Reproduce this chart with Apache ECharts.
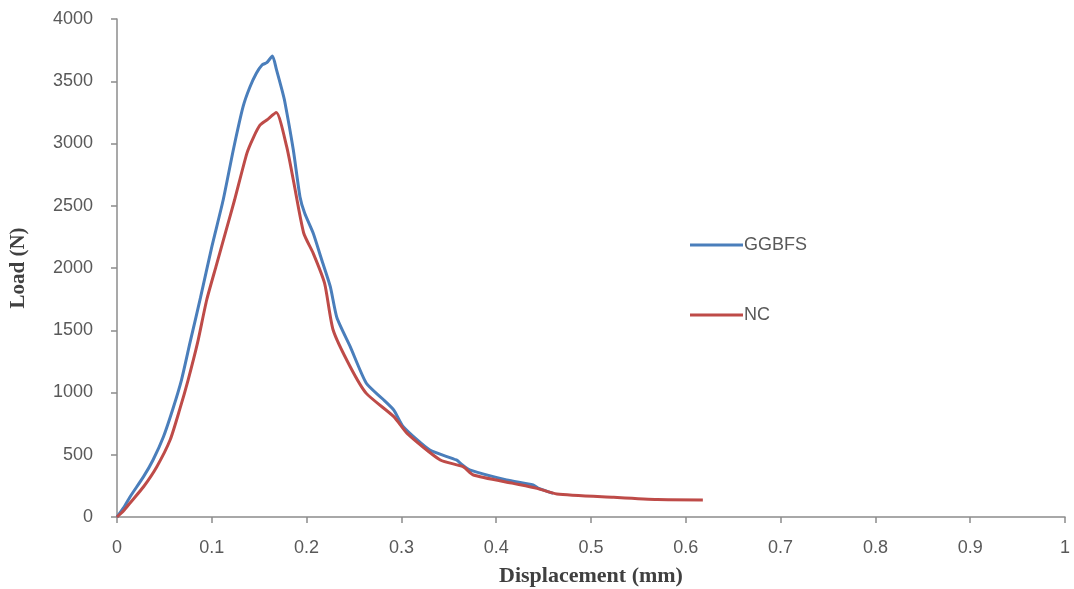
<!DOCTYPE html>
<html>
<head>
<meta charset="utf-8">
<script src="https://cdn.jsdelivr.net/npm/echarts@6/dist/echarts.min.js"></script>
<style>
  html, body { margin: 0; padding: 0; background: #fff; }
  #chart { width: 1074px; height: 589px; }
</style>
</head>
<body>
<div id="chart"></div>
<script>
// GGBFS curve
var ggbfsDisp = [0, 0.007, 0.014, 0.028, 0.038, 0.049, 0.059, 0.068, 0.077, 0.088, 0.1, 0.112, 0.123, 0.133, 0.14, 0.147, 0.153, 0.158, 0.164, 0.168, 0.174, 0.177, 0.186, 0.193, 0.198, 0.207, 0.216, 0.225, 0.232, 0.246, 0.263, 0.28, 0.292, 0.302, 0.33, 0.358, 0.364, 0.372, 0.411, 0.439, 0.445, 0.46];
var ggbfsLoad = [0, 75, 165, 324, 458, 645, 870, 1100, 1400, 1760, 2170, 2546, 2960, 3296, 3450, 3564, 3631, 3649, 3703, 3600, 3430, 3336, 2948, 2573, 2439, 2279, 2064, 1850, 1600, 1368, 1074, 950, 859, 725, 538, 458, 420, 378, 297, 257, 230, 190];

// NC curve
var ncDisp = [0, 0.007, 0.014, 0.028, 0.042, 0.056, 0.066, 0.075, 0.085, 0.0946, 0.105, 0.115, 0.124, 0.137, 0.144, 0.151, 0.158, 0.168, 0.179, 0.186, 0.197, 0.207, 0.219, 0.228, 0.246, 0.263, 0.292, 0.306, 0.341, 0.365, 0.376, 0.418, 0.443, 0.464, 0.524, 0.57, 0.618];
var ncLoad = [0, 50, 115, 243, 404, 618, 860, 1100, 1400, 1743, 2027, 2300, 2546, 2921, 3050, 3149, 3189, 3248, 2974, 2707, 2279, 2118, 1877, 1502, 1207, 993, 806, 672, 458, 404, 337, 270, 230, 185, 158, 140, 137];

function pairs (xs, ys) {
  return xs.map(function (x, i) { return [x, ys[i]] })
}

var axisGray = '#8c8c8c';
var labelGray = '#595959';
var tickFont = 'Liberation Sans';

var chart = echarts.init(document.getElementById('chart'));
chart.setOption({
  animation: false,
  grid: { left: 117, right: 9, top: 19, bottom: 72, outerBoundsMode: 'none' },
  legend: {
    orient: 'vertical',
    left: 685,
    top: 231,
    itemGap: 52,
    itemWidth: 53,
    itemHeight: 3,
    icon: 'rect',
    textStyle: { color: labelGray, fontSize: 18, fontFamily: tickFont, padding: [0, 0, 0, -4] },
    data: ['GGBFS', 'NC']
  },
  xAxis: {
    type: 'value',
    min: 0, max: 1, interval: 0.1,
    name: 'Displacement (mm)',
    nameLocation: 'middle',
    nameGap: 48,
    nameTextStyle: { fontFamily: 'Liberation Serif', fontWeight: 'bold', fontSize: 22, color: '#404040' },
    axisLine: { lineStyle: { color: axisGray, width: 1.5 } },
    axisTick: { show: true, length: 6, lineStyle: { color: axisGray, width: 1.5 } },
    axisLabel: { color: labelGray, fontSize: 18, fontFamily: tickFont, margin: 22 },
    splitLine: { show: false }
  },
  yAxis: {
    type: 'value',
    min: 0, max: 4000, interval: 500,
    name: 'Load (N)',
    nameLocation: 'middle',
    nameGap: 88,
    nameTextStyle: { fontFamily: 'Liberation Serif', fontWeight: 'bold', fontSize: 21, color: '#404040' },
    axisLine: { show: true, lineStyle: { color: axisGray, width: 1.5 } },
    axisTick: { show: true, length: 6, lineStyle: { color: axisGray, width: 1.5 } },
    axisLabel: { color: labelGray, fontSize: 18, fontFamily: tickFont, margin: 24, formatter: function (v) { return String(v) } },
    splitLine: { show: false }
  },
  series: [
    {
      name: 'GGBFS',
      type: 'line',
      data: pairs(ggbfsDisp, ggbfsLoad),
      smooth: 0.2,
      showSymbol: false,
      symbol: 'none',
      itemStyle: { color: '#4a7ebb' },
      lineStyle: { color: '#4a7ebb', width: 3 }
    },
    {
      name: 'NC',
      type: 'line',
      data: pairs(ncDisp, ncLoad),
      smooth: 0.2,
      showSymbol: false,
      symbol: 'none',
      itemStyle: { color: '#be4b48' },
      lineStyle: { color: '#be4b48', width: 3 }
    }
  ]
});
</script>
</body>
</html>
